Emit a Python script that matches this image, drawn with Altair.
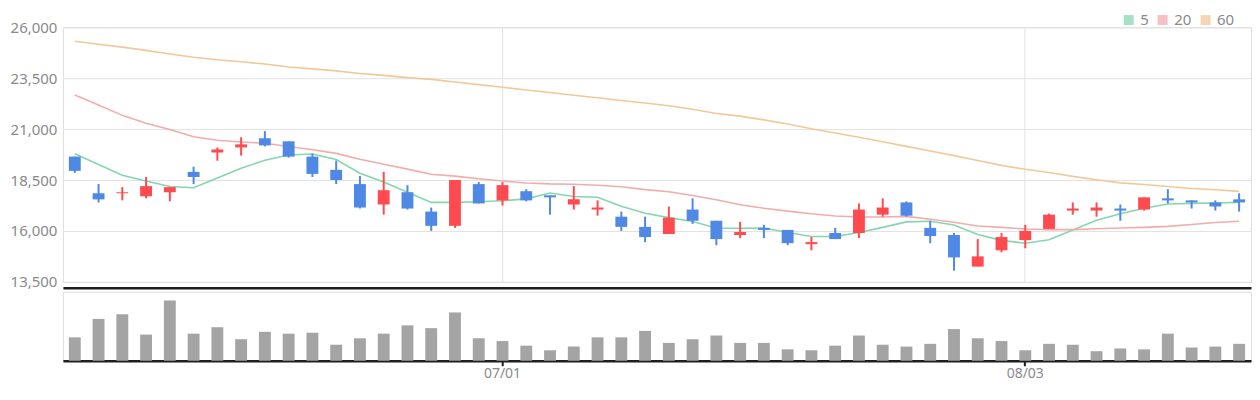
import altair as alt
import pandas as pd

# ---------------- data ----------------
dates = [
    "06/05", "06/08", "06/09", "06/10", "06/11", "06/12", "06/15", "06/16", "06/17", "06/18",
    "06/19", "06/22", "06/23", "06/24", "06/25", "06/26", "06/29", "06/30",
    "07/01", "07/02", "07/03", "07/06", "07/07", "07/08", "07/09", "07/10", "07/13", "07/14",
    "07/15", "07/16", "07/17", "07/21", "07/22", "07/23", "07/24", "07/27", "07/28", "07/29",
    "07/30", "07/31",
    "08/03", "08/04", "08/05", "08/06", "08/07", "08/10", "08/11", "08/12", "08/13", "08/14",
]

opens = [
    19650, 17850, 17850, 17700, 17900, 18900, 19850, 20100, 20550, 20400, 19650, 19000,
    18300, 17300, 17900, 16950, 16250, 18300, 17500, 17950, 17750, 17300, 17050, 16700,
    16200, 15850, 17050, 16500, 15800, 16150, 16050, 15350, 15900, 15900, 16800, 17400, 16150,
    15800, 14250, 15050, 15550, 16100, 17000, 17000, 17100, 17050, 17600, 17500, 17400, 17550,
]
closes = [
    18950, 17550, 17900, 18200, 18150, 18650, 20000, 20250, 20200, 19650, 18800, 18500,
    17150, 18000, 17100, 16250, 18500, 17350, 18250, 17500, 17650, 17550, 17150, 16200,
    15700, 16650, 16500, 15600, 15950, 16050, 15400, 15450, 15600, 17050, 17150, 16750, 15750,
    14700, 14750, 15700, 16000, 16800, 17100, 17150, 17000, 17650, 17500, 17400, 17200, 17400,
]
highs = [
    19650, 18300, 18150, 18650, 18150, 19150, 20100, 20600, 20900, 20400, 19800, 19450,
    18700, 18900, 18250, 17150, 18500, 18400, 18400, 18050, 17750, 18200, 17500, 16950,
    16700, 17200, 17600, 16500, 16450, 16300, 16050, 15700, 16150, 17350, 17600, 17450, 16500,
    15900, 15600, 15900, 16300, 16850, 17400, 17400, 17300, 17650, 18050, 17500, 17500, 17850,
]
lows = [
    18850, 17400, 17500, 17600, 17450, 18300, 19450, 19700, 20150, 19600, 18650, 18300,
    17100, 16800, 17050, 16000, 16150, 17350, 17250, 17450, 16800, 17050, 16750, 16000,
    15450, 15850, 16350, 15300, 15650, 15650, 15300, 15050, 15600, 15650, 16700, 16700, 15400,
    14050, 14250, 14950, 15150, 16100, 16800, 16700, 16500, 17000, 17350, 17100, 17000, 16950,
]
volumes = [
    76, 136, 151, 85, 196, 88, 109, 70, 94, 88, 91, 52, 73, 88, 115, 106, 157, 73, 64, 49,
    34, 46, 76, 76, 97, 58, 70, 82, 58, 58, 37, 34, 49, 82, 52, 46, 55, 103, 73, 64,
    34, 55, 52, 31, 40, 37, 88, 43, 46, 55,
]
volumes = [v * 1000 for v in volumes]

ma5 = [
    19790, 19264, 18739, 18452, 18181, 18118, 18595, 19073, 19471, 19726, 19774, 19503,
    18834, 18404, 17895, 17401, 17401, 17433, 17481, 17576, 17863, 17688, 17656, 17210,
    16868, 16653, 16462, 16143, 16127, 16143, 15920, 15729, 15729, 15920, 16175, 16446, 16478,
    16294, 15825, 15538, 15395, 15570, 16048, 16525, 16844, 17115, 17322, 17354, 17369, 17401,
]
ma20 = [
    22679, 22186, 21674, 21292, 20976, 20622, 20449, 20368, 20306, 20143, 19985, 19808,
    19520, 19274, 19035, 18787, 18691, 18564, 18452, 18357, 18309, 18293, 18245, 18166,
    18030, 17927, 17736, 17529, 17290, 17115, 16971, 16844, 16732, 16685, 16685, 16716, 16573,
    16430, 16239, 16175, 16095, 16064, 16064, 16111, 16143, 16175, 16223, 16318, 16414, 16478,
]
ma60 = [
    25311, 25167, 25024, 24866, 24689, 24531, 24402, 24306, 24196, 24052, 23957, 23861,
    23732, 23636, 23526, 23440, 23311, 23182, 23052, 22923, 22794, 22665, 22540, 22402,
    22282, 22148, 21971, 21770, 21636, 21454, 21248, 21014, 20813, 20598, 20378, 20153, 19928,
    19698, 19459, 19220, 19028, 18870, 18679, 18516, 18358, 18277, 18181, 18086, 18023, 17942,
]

ma_names = ["5", "20", "60"]
ma_colors = ["#80d4a9", "#f0a8a8", "#f0c594"]
y_ticks = [13500, 16000, 18500, 21000, 23500, 26000]
x_ticks = ["07/01", "08/03"]

# ---------------- tables ----------------
df = pd.DataFrame({
    "date": dates, "open": opens, "close": closes, "high": highs, "low": lows,
    "volume": volumes,
})
df["dir"] = ["up" if c >= o else "down" for o, c in zip(opens, closes)]

ma = pd.DataFrame({
    "date": dates * 3,
    "series": [ma_names[0]] * len(dates) + [ma_names[1]] * len(dates) + [ma_names[2]] * len(dates),
    "value": ma5 + ma20 + ma60,
})

FONT = "Noto Sans"
LABEL = "#8a8a8a"
GRID = "#e2e2e2"
W = 1190

x_scale = alt.Scale(domain=dates, paddingInner=0.5, paddingOuter=0.25)
y_scale = alt.Scale(domain=[13500, 26000], nice=False, zero=False)
dir_scale = alt.Scale(domain=["up", "down"], range=["#ff4b4f", "#4f88e5"])
ma_scale = alt.Scale(domain=ma_names, range=ma_colors)

x_price = alt.X(
    "date:O", scale=x_scale, title=None,
    axis=alt.Axis(values=x_ticks, labels=False, ticks=False, grid=True, gridColor=GRID,
                  gridWidth=1, domainColor="#1e1e1e", domainWidth=2.5, offset=6,
                  bandPosition=0.5, title=None),
)
y_axis = alt.Axis(values=y_ticks, format=",.0f", grid=True, gridColor=GRID, domain=False,
                  ticks=False, labelColor=LABEL, labelFontSize=15, labelFont=FONT,
                  labelPadding=6, minExtent=54, maxExtent=54, title=None)

lines = alt.Chart(ma).mark_line(strokeWidth=1.6, opacity=0.95).encode(
    x=x_price,
    y=alt.Y("value:Q", scale=y_scale, axis=y_axis),
    color=alt.Color("series:N", scale=ma_scale, legend=None),
)

legend_marks = alt.Chart(ma).mark_square(size=0).encode(
    x=x_price,
    y=alt.Y("value:Q", scale=y_scale, axis=y_axis),
    color=alt.Color(
        "series:N", scale=ma_scale,
        legend=alt.Legend(orient="none", legendX=1060, legendY=-15, direction="horizontal",
                          symbolType="square", symbolSize=100, symbolStrokeWidth=0,
                          labelFontSize=15, labelColor=LABEL, labelFont=FONT, labelOffset=4,
                          columnPadding=6, title=None, padding=0),
    ),
)

wicks = alt.Chart(df).mark_rule(strokeWidth=2).encode(
    x=x_price,
    y=alt.Y("low:Q", scale=y_scale, axis=y_axis),
    y2="high:Q",
    color=alt.Color("dir:N", scale=dir_scale, legend=None),
)

bodies = alt.Chart(df).mark_bar().encode(
    x=x_price,
    y=alt.Y("open:Q", scale=y_scale, axis=y_axis),
    y2="close:Q",
    color=alt.Color("dir:N", scale=dir_scale, legend=None),
)

price = alt.layer(lines, legend_marks, wicks, bodies).resolve_scale(
    color="independent"
).properties(width=W, height=255)

vol = alt.Chart(df).mark_bar(color="#a4a4a4").encode(
    x=alt.X(
        "date:O", scale=x_scale, title=None,
        axis=alt.Axis(values=x_ticks, labelAngle=0, domainColor="#1e1e1e", domainWidth=2.5,
                      tickColor="#1e1e1e", tickSize=5, tickWidth=2, labelColor=LABEL,
                      labelFontSize=14, labelFont=FONT, labelPadding=1, grid=False,
                      bandPosition=0.5, title=None),
    ),
    y=alt.Y("volume:Q", scale=alt.Scale(domain=[0, 224000], nice=False),
            axis=alt.Axis(labels=False, ticks=False, domain=False, grid=False, title=None,
                          minExtent=54, maxExtent=54)),
).properties(width=W, height=69)

chart = alt.vconcat(price, vol, spacing=0).properties(
    padding={"left": 0, "top": 3, "right": 0, "bottom": 0}
).configure_view(stroke=None).configure(background="white")

chart.save("out.html", embed_options={"renderer": "svg", "actions": False})
